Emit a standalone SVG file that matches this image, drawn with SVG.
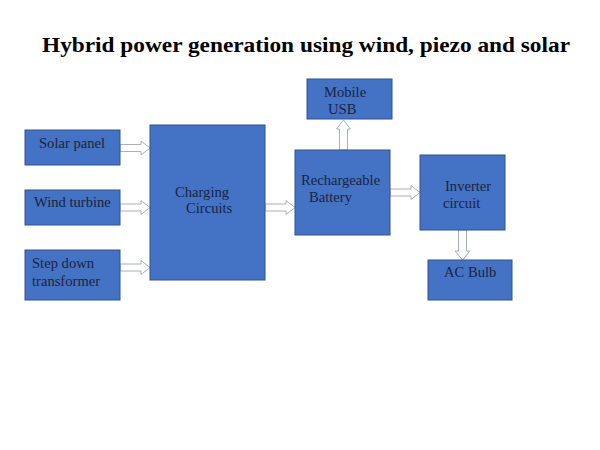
<svg xmlns="http://www.w3.org/2000/svg" width="600" height="450" viewBox="0 0 600 450">
<style>
.box{fill:#4472C4;stroke:#2F528F;stroke-width:1}
.lbl{font-family:"Liberation Serif","Times New Roman",serif;font-size:14.6px;fill:#1b2440}
.arr{fill:#ffffff;stroke:#a6b0c0;stroke-width:1}
.title{font-family:"Liberation Serif","Times New Roman",serif;font-size:22px;font-weight:bold;fill:#000}
</style>
<rect width="600" height="450" fill="#ffffff"/>
<text class="title" x="42" y="52" textLength="528" lengthAdjust="spacingAndGlyphs">Hybrid power generation using wind, piezo and solar</text>
<g id="connectors">
<polygon class="arr" points="120,144.5 141,144.5 141,141 150,148 141,155 141,151.5 120,151.5"/>
<polygon class="arr" points="120,204 141,204 141,200.5 150,207.5 141,214.5 141,211 120,211"/>
<polygon class="arr" points="120,264 141,264 141,260.5 150,267.5 141,274.5 141,271 120,271"/>
<polygon class="arr" points="265,204 286,204 286,200.5 295,207.5 286,214.5 286,211 265,211"/>
<polygon class="arr" points="390,189 411,189 411,185.5 420,192.5 411,199.5 411,196 390,196"/>
<polygon class="arr" points="339.5,150 339.5,129 336.5,129 343.5,120 350.5,129 347.5,129 347.5,150"/>
<polygon class="arr" points="458.5,230 458.5,251 455,251 462.5,260 470,251 466.5,251 466.5,230"/>
</g>
<g id="solar">
<rect class="box" x="25" y="130" width="95" height="35"/>
<text class="lbl" x="39" y="148">Solar panel</text>
</g>
<g id="wind">
<rect class="box" x="25" y="190" width="95" height="35"/>
<text class="lbl" x="34" y="207">Wind turbine</text>
</g>
<g id="stepdown">
<rect class="box" x="25" y="250" width="95" height="50"/>
<text class="lbl" x="32" y="268">Step down</text>
<text class="lbl" x="32" y="286">transformer</text>
</g>
<g id="charging">
<rect class="box" x="150" y="125" width="115" height="155"/>
<text class="lbl" x="175" y="197">Charging</text>
<text class="lbl" x="186" y="213">Circuits</text>
</g>
<g id="battery">
<rect class="box" x="295" y="150" width="95" height="85"/>
<text class="lbl" x="301" y="185">Rechargeable</text>
<text class="lbl" x="309" y="202">Battery</text>
</g>
<g id="usb">
<rect class="box" x="307" y="79" width="85" height="40"/>
<text class="lbl" x="324" y="97">Mobile</text>
<text class="lbl" x="328" y="114">USB</text>
</g>
<g id="inverter">
<rect class="box" x="420" y="155" width="85" height="75"/>
<text class="lbl" x="445" y="191">Inverter</text>
<text class="lbl" x="443" y="208">circuit</text>
</g>
<g id="acbulb">
<rect class="box" x="428" y="260" width="84" height="40"/>
<text class="lbl" x="444" y="277">AC Bulb</text>
</g>
</svg>
